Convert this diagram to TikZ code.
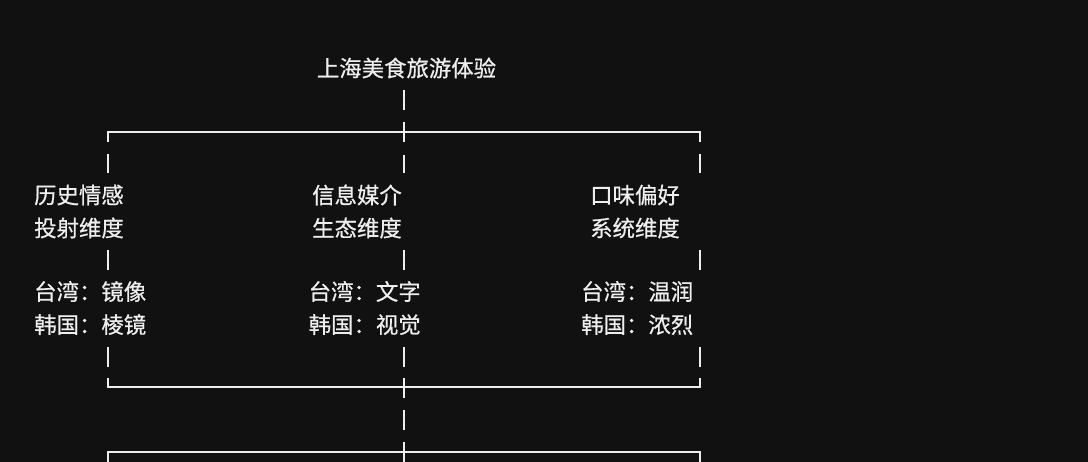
\documentclass[tikz,border=0pt]{standalone}
\usepackage{fontspec}
\usepackage{tikz}
\usetikzlibrary{calc}
\newfontfamily\cjkfont[FakeBold=0.6]{Noto Sans CJK SC}
\definecolor{BgBlack}{RGB}{17,17,17}
\definecolor{InkWhite}{RGB}{238,238,238}

\begin{document}
\begin{tikzpicture}[
    x=1pt,
    y=-1pt,
    font=\cjkfont\fontsize{22.4}{33}\selectfont,
    txt/.style={
        text=InkWhite,
        inner sep=0pt,
        anchor=west,
        align=left
    },
    bar/.style={
        draw=InkWhite,
        line width=2.3pt,
        line cap=rect
    },
    stem/.style={
        draw=InkWhite,
        line width=2.3pt
    },
    sidestem/.style={
        stem,
        dash pattern=on 10pt off 12pt on 19pt off 77pt on 20pt off 77pt on 20pt off 11pt on 9pt
    },
    midstem/.style={
        stem,
        dash pattern=on 20pt off 12pt on 20pt off 13pt on 18pt off 77pt on 20pt off 77pt on 20pt off 11pt on 20pt off 12pt on 20pt off 12pt on 22pt
    }
]

\fill[BgBlack] (0,0) rectangle (1088,462);
\useasboundingbox (0,0) rectangle (1088,462);

\node[txt, anchor=center] (title) at (406.5,68) {上海美食旅游体验};

\node[txt] (dimL) at (34,211.5) {历史情感\\投射维度};
\node[txt] (dimM) at (312,211.5) {信息媒介\\生态维度};
\node[txt] (dimR) at (590,211.5) {口味偏好\\系统维度};

\node[txt] (cmpL) at (34,308) {台湾：镜像\\韩国：棱镜};
\node[txt] (cmpM) at (308.5,308) {台湾：文字\\韩国：视觉};
\node[txt] (cmpR) at (581,308) {台湾：温润\\韩国：浓烈};

\coordinate (root) at (404,90);
\coordinate (end) at (404,464);
\foreach \c/\x in {L/108,M/404,R/700} {
    \coordinate (top\c) at (\x,132);
    \coordinate (bot\c) at (\x,387);
    \coordinate (low\c) at (\x,452);
    \coordinate (edge\c) at (\x,464);
}

\draw[bar] (topL) -- (topR);
\draw[bar] (botL) -- (botR);
\draw[bar] (lowL) -- (lowR);

\draw[sidestem] (topL) -- (botL);
\draw[sidestem] (topR) -- (botR);
\draw[midstem] (root) -- (end);
\draw[stem] (lowL) -- (edgeL);
\draw[stem] (lowR) -- (edgeR);

\end{tikzpicture}
\end{document}
